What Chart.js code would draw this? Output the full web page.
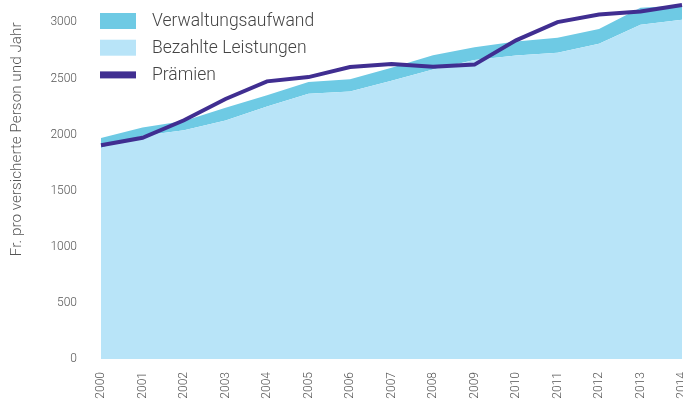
<!DOCTYPE html>
<html>
<head>
<meta charset="utf-8">
<script src="https://cdn.jsdelivr.net/npm/chart.js@4"></script>
<style>
  html, body { margin: 0; padding: 0; background: #fff; }
  #wrap { width: 683px; height: 400px; }
</style>
</head>
<body>
<div id="wrap"><canvas id="chart"></canvas></div>
<script>
const years = ["2000","2001","2002","2003","2004","2005","2006","2007","2008","2009","2010","2011","2012","2013","2014"];

// Fr. pro versicherte Person und Jahr
const leistungen = [1880, 1990, 2040, 2125, 2250, 2365, 2385, 2480, 2580, 2665, 2705, 2730, 2810, 2980, 3025];
const verwaltung = [90, 73, 82, 115, 100, 105, 108, 116, 128, 113, 125, 133, 132, 152, 125];
const praemien = [1906, 1972, 2128, 2318, 2475, 2513, 2602, 2630, 2604, 2624, 2840, 3003, 3070, 3098, 3155];

const yTicks = [0, 500, 1000, 1500, 2000, 2500, 3000];

const FONT = "Roboto, 'Liberation Sans', sans-serif";

// legend drawn top-left inside the plot
const boxLegend = {
  id: 'boxLegend',
  afterDraw(chart) {
    const {ctx, chartArea} = chart;
    const items = [chart.data.datasets[2], chart.data.datasets[1], chart.data.datasets[0]];
    ctx.save();
    ctx.font = "300 17.5px " + FONT;
    ctx.textBaseline = 'middle';
    items.forEach((ds, i) => {
      const y = 21 + i * 26.7;
      if (ds.fill === false) {
        ctx.fillStyle = ds.borderColor;
        ctx.fillRect(chartArea.left - 1, y - 3, 36, 7);
      } else {
        ctx.fillStyle = ds.backgroundColor;
        ctx.fillRect(chartArea.left - 1, y - 8, 36, 16);
      }
      ctx.fillStyle = '#444';
      ctx.fillText(ds.label, chartArea.left + 51, y + 1);
    });
    ctx.restore();
  }
};

// y title starts at the 3000 tick and runs downwards
const yTitle = {
  id: 'yTitle',
  afterDraw(chart) {
    const {ctx} = chart;
    const y = chart.scales.y.getPixelForValue(3000);
    ctx.save();
    ctx.translate(17, y);
    ctx.rotate(-Math.PI / 2);
    ctx.font = "300 15.3px " + FONT;
    ctx.fillStyle = '#555';
    ctx.textAlign = 'right';
    ctx.textBaseline = 'middle';
    ctx.fillText("Fr. pro versicherte Person und Jahr", 0, 0);
    ctx.restore();
  }
};

new Chart("chart", {
  data: {
    labels: years,
    datasets: [
      {
        type: 'line',
        label: "Prämien",
        data: praemien,
        stack: 'p',
        borderColor: "rgb(64, 46, 145)",
        backgroundColor: "rgb(64, 46, 145)",
        borderWidth: 4,
        pointRadius: 0,
        tension: 0,
        fill: false
      },
      {
        type: 'line',
        label: "Bezahlte Leistungen",
        data: leistungen,
        stack: 'k',
        borderWidth: 0,
        pointRadius: 0,
        backgroundColor: "rgb(184, 228, 248)",
        borderColor: "rgba(0,0,0,0)",
        fill: 'origin'
      },
      {
        type: 'line',
        label: "Verwaltungsaufwand",
        data: verwaltung,
        stack: 'k',
        borderWidth: 0,
        pointRadius: 0,
        backgroundColor: "rgb(110, 202, 228)",
        borderColor: "rgba(0,0,0,0)",
        fill: '-1'
      }
    ]
  },
  options: {
    responsive: true,
    maintainAspectRatio: false,
    animation: false,
    layout: { padding: { left: 0, right: 1, top: 0, bottom: 0 } },
    plugins: {
      legend: { display: false },
      tooltip: { enabled: false }
    },
    scales: {
      x: {
        offset: false,
        grid: { display: false, drawTicks: false },
        border: { display: false },
        ticks: {
          minRotation: 90,
          maxRotation: 90,
          padding: 13,
          autoSkip: false,
          color: '#555',
          font: { family: FONT, size: 12, weight: 300 }
        },
        afterFit(scale) {
          scale.height = 41;
          scale.paddingLeft = 0;
          scale.paddingRight = 0;
        }
      },
      y: {
        stacked: true,
        min: 0,
        max: 3200,
        grid: { display: false, drawTicks: false },
        border: { display: false },
        afterBuildTicks(scale) {
          scale.ticks = yTicks.map(v => ({ value: v }));
        },
        ticks: {
          padding: 24,
          color: '#555',
          font: { family: FONT, size: 12, weight: 300 },
          callback: (v) => String(v)
        },
        afterFit(scale) {
          scale.width = 101;
          scale.paddingTop = 0;
          scale.paddingBottom = 0;
        }
      }
    }
  },
  plugins: [boxLegend, yTitle]
});
</script>
</body>
</html>
